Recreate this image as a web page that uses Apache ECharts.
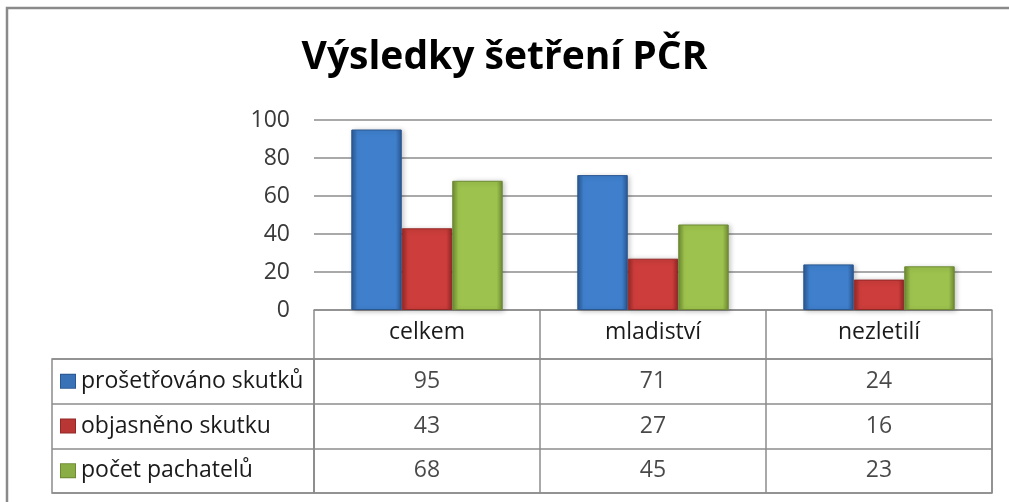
<!DOCTYPE html>
<html>
<head>
<meta charset="utf-8">
<script src="https://cdn.jsdelivr.net/npm/echarts@6/dist/echarts.min.js"></script>
<style>html,body{margin:0;padding:0;background:#fff;overflow:hidden}#c{width:1009px;height:502px}</style>
</head>
<body>
<div id="c"></div>
<script>
const titleText = 'Výsledky šetření PČR';
const categories = ['celkem', 'mladiství', 'nezletilí'];
const seriesNames = ['prošetřováno skutků', 'objasněno skutku', 'počet pachatelů'];
const investigated = [95, 71, 24];
const solved = [43, 27, 16];
const offenders = [68, 45, 23];
const yMin = 0, yMax = 100, yStep = 20;

const seriesValues = [investigated, solved, offenders];
const palette = [
  {mid: '#3f7fcc', dark: '#2a5791', light: '#6aa6ec', icon: '#3a72b8'},
  {mid: '#cc3d3b', dark: '#922826', light: '#ee6b66', icon: '#b83634'},
  {mid: '#9dc24d', dark: '#6d8a33', light: '#cfe77f', icon: '#8aae45'}
];
const FONT = '"Open Sans", "Noto Sans", sans-serif';
const gridCol = '#8c8c8c';
const txtSize = 23;

function barColor(p) {
  return new echarts.graphic.LinearGradient(0, 0, 1, 0, [
    {offset: 0, color: p.dark},
    {offset: 0.12, color: p.mid},
    {offset: 0.88, color: p.mid},
    {offset: 1, color: p.dark}
  ]);
}

const chart = echarts.init(document.getElementById('c'), null, {renderer: 'canvas'});

const barSeries = seriesNames.map((name, k) => ({
  name: name,
  type: 'bar',
  xAxisIndex: 0, yAxisIndex: 0,
  barGap: '0%',
  barCategoryGap: '33%',
  data: seriesValues[k],
  itemStyle: {
    color: barColor(palette[k]),
    borderColor: palette[k].dark,
    borderWidth: 1,
    shadowBlur: 5,
    shadowColor: 'rgba(0,0,0,0.25)',
    shadowOffsetX: 2,
    shadowOffsetY: 1
  },
  silent: true
}));

const tableSeries = seriesNames.map((name, k) => ({
  name: name + ' (tabulka)',
  type: 'scatter',
  xAxisIndex: 1, yAxisIndex: 1,
  symbolSize: 1,
  itemStyle: {color: 'rgba(0,0,0,0)'},
  data: seriesValues[k].map((v, i) => [categories[i], name, v]),
  label: {
    show: true,
    position: 'inside',
    formatter: p => String(p.data[2]),
    color: '#1a1a1a',
    fontFamily: FONT,
    fontSize: txtSize
  },
  silent: true
}));

const richIcons = {};
seriesNames.forEach((n, k) => {
  richIcons['i' + k] = {
    width: 14, height: 13,
    backgroundColor: palette[k].icon,
    borderColor: palette[k].dark, borderWidth: 1
  };
});
richIcons.t = {fontFamily: FONT, fontSize: txtSize, color: '#1a1a1a', padding: [0, 0, 0, 6]};

const option = {
  backgroundColor: '#ffffff',
  animation: false,
  title: {
    text: titleText,
    left: 'center',
    top: 33,
    textStyle: {fontFamily: FONT, fontSize: 39, fontWeight: 'bold', color: '#000'}
  },
  grid: [
    {left: 314, right: 17, top: 120, height: 190, containLabel: false},
    {left: 314, right: 17, top: 359, bottom: 9, show: true, borderColor: gridCol, borderWidth: 1.5, backgroundColor: 'transparent'},
    {left: 52, width: 262, top: 359, bottom: 9, show: true, borderColor: gridCol, borderWidth: 1.5, backgroundColor: 'transparent'}
  ],
  xAxis: [
    {
      gridIndex: 0, type: 'category', data: categories,
      axisLine: {show: true, lineStyle: {color: gridCol, width: 1.5}},
      axisTick: {show: true, alignWithLabel: false, length: 49, lineStyle: {color: gridCol, width: 1.5}},
      axisLabel: {margin: 11, fontFamily: FONT, fontSize: txtSize, color: '#1a1a1a'}
    },
    {
      gridIndex: 1, type: 'category', data: categories,
      axisLine: {show: false}, axisTick: {show: false}, axisLabel: {show: false},
      splitLine: {show: true, lineStyle: {color: gridCol, width: 1.5}}
    },
    {
      gridIndex: 2, type: 'value', show: false, min: 0, max: 1
    }
  ],
  yAxis: [
    {
      gridIndex: 0, type: 'value', min: yMin, max: yMax, interval: yStep,
      axisLine: {show: false}, axisTick: {show: false},
      axisLabel: {margin: 24, fontFamily: FONT, fontSize: 23, color: '#3a3a3a'},
      splitLine: {show: true, lineStyle: {color: gridCol, width: 1.5}}
    },
    {
      gridIndex: 1, type: 'category', data: seriesNames, inverse: true,
      axisLine: {show: false}, axisTick: {show: false}, axisLabel: {show: false},
      splitLine: {show: true, lineStyle: {color: gridCol, width: 1.5}}
    },
    {
      gridIndex: 2, type: 'category', data: seriesNames, inverse: true,
      axisLine: {show: false}, axisTick: {show: false},
      splitLine: {show: true, lineStyle: {color: gridCol, width: 1.5}},
      axisLabel: {
        inside: true, margin: 9,
        formatter: (v, idx) => '{i' + idx + '|}{t|' + v + '}',
        rich: richIcons
      }
    }
  ],
  series: barSeries.concat(tableSeries),
  graphic: [
    {type: 'polyline', shape: {points: [[7, 520], [7, 8], [1030, 8]]}, style: {fill: null, stroke: '#8a8a8a', lineWidth: 2.5}, silent: true}
  ]
};
chart.setOption(option);
</script>
</body>
</html>
